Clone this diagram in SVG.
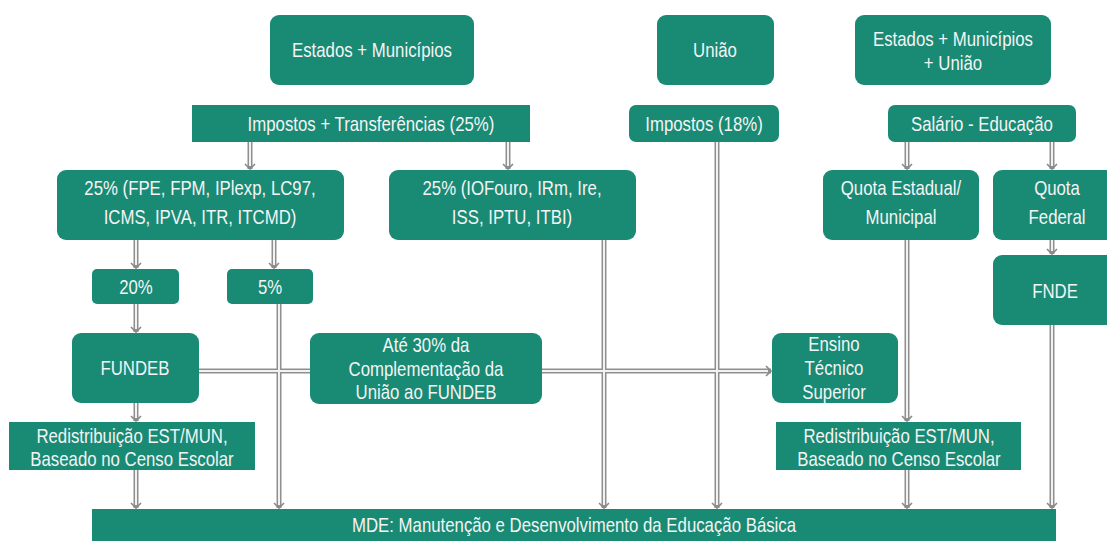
<svg xmlns="http://www.w3.org/2000/svg" width="1107" height="541" viewBox="0 0 1107 541">
<defs>
<style>
.n{fill:#198a74}
.t{fill:#f4f4f4;font-family:"Liberation Sans",Arial,sans-serif;font-size:20px;text-anchor:middle}
.co{stroke:#8f8f8f;stroke-width:5;fill:none}
.ci{stroke:#f2f2f2;stroke-width:2;fill:none}
</style>
<marker id="ah" markerUnits="userSpaceOnUse" markerWidth="12" markerHeight="12" refX="6" refY="6" orient="auto" viewBox="0 0 12 12">
<path d="M1,1 L6,6 L1,11" fill="none" stroke="#8a8a8a" stroke-width="1.6"/>
</marker>
</defs>
<rect width="1107" height="541" fill="#ffffff"/>
<g id="connectors">
<g class="co">
<path d="M250,142 V169" marker-end="url(#ah)"/>
<path d="M508,142 V169" marker-end="url(#ah)"/>
<path d="M136,240 V268" marker-end="url(#ah)"/>
<path d="M274,240 V268" marker-end="url(#ah)"/>
<path d="M136,304 V332" marker-end="url(#ah)"/>
<path d="M279,304 V508" marker-end="url(#ah)"/>
<path d="M136,403 V421" marker-end="url(#ah)"/>
<path d="M136,470 V508" marker-end="url(#ah)"/>
<path d="M199,371 H771" marker-end="url(#ah)"/>
<path d="M604,240 V508" marker-end="url(#ah)"/>
<path d="M717,142 V508" marker-end="url(#ah)"/>
<path d="M907,142 V169" marker-end="url(#ah)"/>
<path d="M1052,142 V169" marker-end="url(#ah)"/>
<path d="M907,240 V421" marker-end="url(#ah)"/>
<path d="M907,470 V508" marker-end="url(#ah)"/>
<path d="M1052,240 V254" marker-end="url(#ah)"/>
<path d="M1052,325 V508" marker-end="url(#ah)"/>
</g>
<g class="ci">
<path d="M250,142 V166"/>
<path d="M508,142 V166"/>
<path d="M136,240 V265"/>
<path d="M274,240 V265"/>
<path d="M136,304 V329"/>
<path d="M279,304 V505"/>
<path d="M136,403 V418"/>
<path d="M136,470 V505"/>
<path d="M199,371 H768"/>
<path d="M604,240 V505"/>
<path d="M717,142 V505"/>
<path d="M907,142 V166"/>
<path d="M1052,142 V166"/>
<path d="M907,240 V418"/>
<path d="M907,470 V505"/>
<path d="M1052,240 V251"/>
<path d="M1052,325 V505"/>
</g>
</g>
<g id="n-estmun"><rect class="n" x="270" y="15" width="204" height="70" rx="9"/><text class="t" transform="translate(372,57) scale(0.84,1)">Estados + Municípios</text></g>
<g id="n-uniao"><rect class="n" x="657" y="15" width="117" height="70" rx="9"/><text class="t" transform="translate(715,57) scale(0.84,1)">União</text></g>
<g id="n-estmununiao"><rect class="n" x="855" y="15" width="196" height="70" rx="9"/><text class="t" transform="translate(953,46) scale(0.84,1)">Estados + Municípios</text><text class="t" transform="translate(953,70) scale(0.84,1)">+ União</text></g>
<g id="n-imptransf"><rect class="n" x="192" y="105" width="338" height="37"/><text class="t" transform="translate(371,131) scale(0.84,1)">Impostos + Transferências (25%)</text></g>
<g id="n-imp18"><rect class="n" x="629" y="105" width="150" height="37" rx="7"/><text class="t" transform="translate(704,131) scale(0.84,1)">Impostos (18%)</text></g>
<g id="n-salario"><rect class="n" x="888" y="105" width="188" height="37" rx="7"/><text class="t" transform="translate(982,131) scale(0.84,1)">Salário - Educação</text></g>
<g id="n-25a"><rect class="n" x="57" y="170" width="287" height="70" rx="9"/><text class="t" transform="translate(200,195) scale(0.84,1)">25% (FPE, FPM, IPlexp, LC97,</text><text class="t" transform="translate(200,224) scale(0.84,1)">ICMS, IPVA, ITR, ITCMD)</text></g>
<g id="n-25b"><rect class="n" x="389" y="170" width="247" height="70" rx="9"/><text class="t" transform="translate(512,195) scale(0.84,1)">25% (IOFouro, IRm, Ire,</text><text class="t" transform="translate(512,224) scale(0.84,1)">ISS, IPTU, ITBI)</text></g>
<g id="n-quotaest"><rect class="n" x="823" y="170" width="156" height="70" rx="9"/><text class="t" transform="translate(901,195) scale(0.84,1)">Quota Estadual/</text><text class="t" transform="translate(901,224) scale(0.84,1)">Municipal</text></g>
<g id="n-quotafed"><rect class="n" x="993" y="170" width="125" height="70" rx="9"/><text class="t" transform="translate(1057,195) scale(0.84,1)">Quota</text><text class="t" transform="translate(1057,224) scale(0.84,1)">Federal</text></g>
<g id="n-20"><rect class="n" x="92" y="269" width="87" height="35" rx="5"/><text class="t" transform="translate(136,294) scale(0.84,1)">20%</text></g>
<g id="n-5"><rect class="n" x="227" y="269" width="86" height="35" rx="5"/><text class="t" transform="translate(270,294) scale(0.84,1)">5%</text></g>
<g id="n-fnde"><rect class="n" x="993" y="255" width="125" height="70" rx="9"/><text class="t" transform="translate(1055,298) scale(0.84,1)">FNDE</text></g>
<g id="n-fundeb"><rect class="n" x="72" y="333" width="127" height="70" rx="9"/><text class="t" transform="translate(135,375) scale(0.84,1)">FUNDEB</text></g>
<g id="n-ate30"><rect class="n" x="310" y="333" width="232" height="71" rx="9"/><text class="t" transform="translate(426,352) scale(0.84,1)">Até 30% da</text><text class="t" transform="translate(426,376) scale(0.84,1)">Complementação  da</text><text class="t" transform="translate(426,399) scale(0.84,1)">União ao FUNDEB</text></g>
<g id="n-ensino"><rect class="n" x="772" y="333" width="126" height="70" rx="9"/><text class="t" transform="translate(834,351) scale(0.84,1)">Ensino</text><text class="t" transform="translate(834,375) scale(0.84,1)">Técnico</text><text class="t" transform="translate(834,399) scale(0.84,1)">Superior</text></g>
<g id="n-redistA"><rect class="n" x="9" y="422" width="246" height="48"/><text class="t" transform="translate(132,443) scale(0.84,1)">Redistribuição EST/MUN,</text><text class="t" transform="translate(132,466) scale(0.84,1)">Baseado no Censo Escolar</text></g>
<g id="n-redistB"><rect class="n" x="776" y="422" width="245" height="48"/><text class="t" transform="translate(899,443) scale(0.84,1)">Redistribuição EST/MUN,</text><text class="t" transform="translate(899,466) scale(0.84,1)">Baseado no Censo Escolar</text></g>
<g id="n-mde"><rect class="n" x="92" y="509" width="964" height="40"/><text class="t" transform="translate(574,532) scale(0.84,1)">MDE: Manutenção e Desenvolvimento  da Educação Básica</text></g>
</svg>
